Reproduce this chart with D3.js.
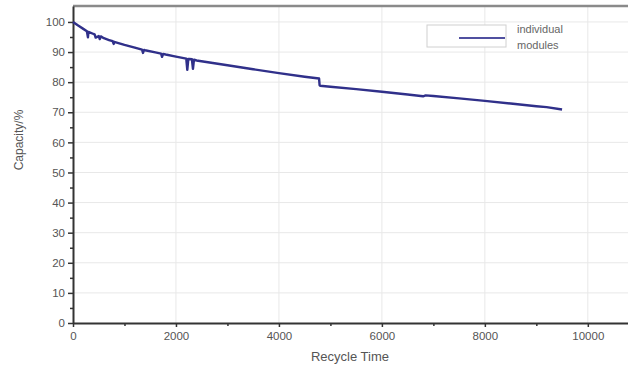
<!DOCTYPE html>
<meta charset="utf-8">
<title>Capacity vs Recycle Time</title>
<style>
body { margin: 0; background: #fff; }
svg { font-family: "Liberation Sans", Arial, sans-serif; }
.tick text { fill: #555; font-size: 11.5px; }
.grid line { stroke: #e8e8e8; }
</style>
<body>
<svg width="628" height="370"></svg>
<script src="https://d3js.org/d3.v7.min.js"></script>
<script>

// recycle time (x) and capacity % (y)
var cycles = [0, 100, 200, 270, 290, 300, 400, 420, 440, 500, 520, 540, 600, 700, 770, 790, 800, 1000, 1200,
              1340, 1360, 1380, 1400, 1600, 1710, 1730, 1750, 1800, 2000, 2200, 2220, 2240, 2260, 2310, 2330, 2350,
              2400, 3000, 3500, 4000, 4500, 4780, 4790, 4800, 5000, 5500, 6000, 6500, 6800, 6850, 7000, 7500,
              8000, 8500, 9000, 9200, 9500];
var capacity = [100, 98.8, 97.7, 96.9, 94.9, 96.7, 96.0, 95.9, 94.8, 95.3, 94.3, 95.2, 94.6, 94.0, 93.6, 92.7, 93.4, 92.4, 91.5,
                90.8, 89.7, 90.7, 90.6, 89.9, 89.5, 88.4, 89.4, 89.2, 88.5, 87.8, 84.1, 87.7, 87.7, 87.6, 84.4, 87.5,
                87.2, 85.6, 84.3, 83.0, 81.8, 81.2, 79.0, 78.8, 78.5, 77.7, 76.8, 75.9, 75.3, 75.6, 75.4, 74.6,
                73.8, 72.9, 72.0, 71.7, 70.9];
var xTicks = [0, 2000, 4000, 6000, 8000, 10000];
var yTicks = [0, 10, 20, 30, 40, 50, 60, 70, 80, 90, 100];
var seriesName = ["individual", "modules"];

var data = cycles.map(function(c, i) { return {x: c, y: capacity[i]}; });

var svg = d3.select("svg");
var pLeft = 73, pRight = 629, pTop = 6, pBottom = 323;

var x = d3.scaleLinear().domain([0, 10800]).range([pLeft, pRight]);
var y = d3.scaleLinear().domain([0, 105.3]).range([pBottom, pTop]);

// grid
svg.append("g").attr("class", "grid")
  .selectAll("line").data(xTicks.slice(1)).enter().append("line")
  .attr("x1", function(d) { return x(d); }).attr("x2", function(d) { return x(d); })
  .attr("y1", pTop).attr("y2", pBottom);
svg.append("g").attr("class", "grid")
  .selectAll("line").data(yTicks.slice(1)).enter().append("line")
  .attr("x1", pLeft).attr("x2", pRight)
  .attr("y1", function(d) { return y(d); }).attr("y2", function(d) { return y(d); });

// top frame
svg.append("line").attr("x1", pLeft).attr("x2", pRight).attr("y1", pTop).attr("y2", pTop)
  .attr("stroke", "#8a8a8a").attr("stroke-width", 2.5);

// minor ticks
svg.append("g").attr("transform", "translate(" + pLeft + ",0)")
  .call(d3.axisLeft(y).tickValues(d3.range(5, 105, 10)).tickSize(3).tickFormat(""))
  .call(function(g) { g.select(".domain").remove(); g.selectAll("line").attr("stroke", "#333").attr("stroke-width", 1.5); });
svg.append("g").attr("transform", "translate(0," + pBottom + ")")
  .call(d3.axisBottom(x).tickValues(d3.range(1000, 11000, 2000)).tickSize(3).tickFormat(""))
  .call(function(g) { g.select(".domain").remove(); g.selectAll("line").attr("stroke", "#333").attr("stroke-width", 1.5); });

// axes
var yAxis = svg.append("g").attr("transform", "translate(" + pLeft + ",0)")
  .call(d3.axisLeft(y).tickValues(yTicks).tickSize(5).tickPadding(3).tickSizeOuter(0));
var xAxis = svg.append("g").attr("transform", "translate(0," + pBottom + ")")
  .call(d3.axisBottom(x).tickValues(xTicks).tickFormat(d3.format("d")).tickSize(4).tickPadding(5).tickSizeOuter(0));
[yAxis, xAxis].forEach(function(g) {
  g.select(".domain").attr("stroke", "#333").attr("stroke-width", 2);
  g.selectAll(".tick line").attr("stroke", "#333").attr("stroke-width", 1.5);
});

// data line
var line = d3.line().x(function(d) { return x(d.x); }).y(function(d) { return y(d.y); });
svg.append("path").datum(data)
  .attr("fill", "none").attr("stroke", "#30308a").attr("stroke-width", 2.4)
  .attr("stroke-linejoin", "round")
  .attr("d", line);

// axis titles
svg.append("text").attr("x", 350).attr("y", 361).attr("text-anchor", "middle")
  .attr("fill", "#555").style("font-size", "13px").text("Recycle Time");
svg.append("text").attr("transform", "translate(23,140) rotate(-90)").attr("text-anchor", "middle")
  .attr("fill", "#555").style("font-size", "12px").text("Capacity/%");

// legend
var lg = svg.append("g");
lg.append("rect").attr("x", 427).attr("y", 25).attr("width", 79).attr("height", 22)
  .attr("fill", "#fff").attr("stroke", "#d0d0d0");
lg.append("line").attr("x1", 459).attr("x2", 505).attr("y1", 38).attr("y2", 38)
  .attr("stroke", "#5050a0").attr("stroke-width", 2);
lg.selectAll("text").data(seriesName).enter().append("text")
  .attr("x", 517).attr("y", function(d, i) { return 33 + i * 16; })
  .attr("fill", "#666").style("font-size", "11px").text(function(d) { return d; });

</script>
</body>
